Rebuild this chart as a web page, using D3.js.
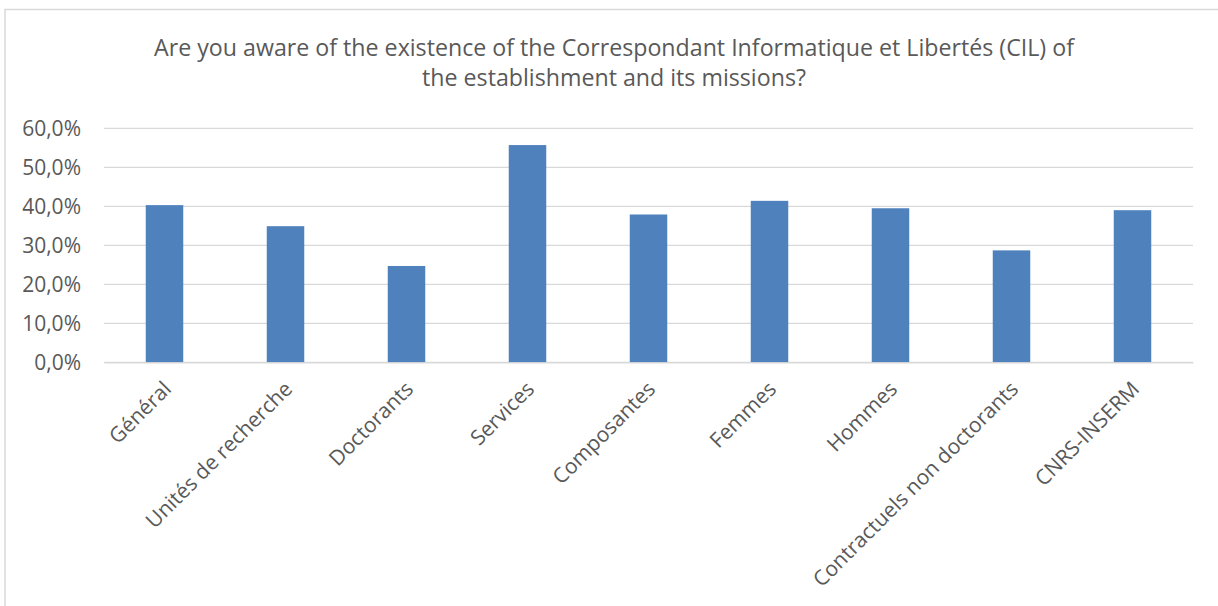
<!DOCTYPE html>
<html>
<head>
<meta charset="utf-8">
<script src="https://cdn.jsdelivr.net/npm/d3@7"></script>
<style>
  html, body { margin: 0; padding: 0; background: #fff; }
  svg { display: block; }
  text { font-family: "Open Sans", sans-serif; fill: #595959; }
</style>
</head>
<body>
<svg id="chart" width="1218" height="606"></svg>
<script>
const titleLines = [
  "Are you aware of the existence of the Correspondant Informatique et Libertés (CIL) of",
  "the establishment and its missions?"
];
const categories = ["Général", "Unités de recherche", "Doctorants", "Services", "Composantes",
  "Femmes", "Hommes", "Contractuels non doctorants", "CNRS-INSERM"];
const values = [0.403, 0.349, 0.247, 0.557, 0.379, 0.414, 0.395, 0.287, 0.390];
const yTicks = [0, 0.1, 0.2, 0.3, 0.4, 0.5, 0.6];

const svg = d3.select("#chart");
const W = 1218, H = 606;

// chart border
svg.append("rect")
  .attr("x", 5).attr("y", 9.5).attr("width", W + 10).attr("height", H + 10)
  .attr("fill", "none").attr("stroke", "#d9d9d9").attr("stroke-width", 1.5);

// title
const title = svg.append("text").attr("text-anchor", "middle").attr("font-size", 23.2);
titleLines.forEach((l, i) => {
  title.append("tspan").attr("x", 614).attr("y", 56 + i * 30).text(l);
});

const plotL = 104, plotR = 1193, plotT = 128.3, plotB = 362.3;
const x = d3.scaleBand().domain(categories).range([plotL, plotR]).paddingInner(0.69).paddingOuter(0.345);
const y = d3.scaleLinear().domain([0, 0.6]).range([plotB, plotT]);

// gridlines
svg.append("g").selectAll("line").data(yTicks).join("line")
  .attr("x1", plotL).attr("x2", plotR)
  .attr("y1", d => y(d)).attr("y2", d => y(d))
  .attr("stroke", "#d9d9d9").attr("stroke-width", 1.3);

// y axis
const fmt = d => d3.format(".1f")(d * 100).replace(".", ",") + "%";
const yAxis = svg.append("g").attr("transform", `translate(${plotL - 23},0)`)
  .call(d3.axisLeft(y).tickValues(yTicks).tickFormat(fmt).tickSize(0).tickPadding(0));
yAxis.select(".domain").remove();
yAxis.selectAll("text").attr("font-size", 21).attr("fill", "#595959")
  .attr("dy", "0.35em")
  .style("font-family", "'Open Sans', sans-serif");

// bars
svg.append("g").selectAll("rect").data(values).join("rect")
  .attr("x", (d, i) => x(categories[i]))
  .attr("width", x.bandwidth())
  .attr("y", d => y(d))
  .attr("height", d => plotB - y(d))
  .attr("fill", "#4f81bd");

// x axis
const xAxis = svg.append("g").attr("transform", `translate(0,${plotB})`)
  .call(d3.axisBottom(x).tickSize(0).tickPadding(0));
xAxis.select(".domain").attr("stroke", "#d9d9d9").attr("stroke-width", 1.3);
xAxis.selectAll("text")
  .attr("font-size", 21).attr("fill", "#595959")
  .style("font-family", "'Open Sans', sans-serif")
  .attr("text-anchor", "end")
  .attr("y", 0).attr("dy", 0)
  .attr("transform", "translate(8,28) rotate(-45)");
</script>
</body>
</html>
